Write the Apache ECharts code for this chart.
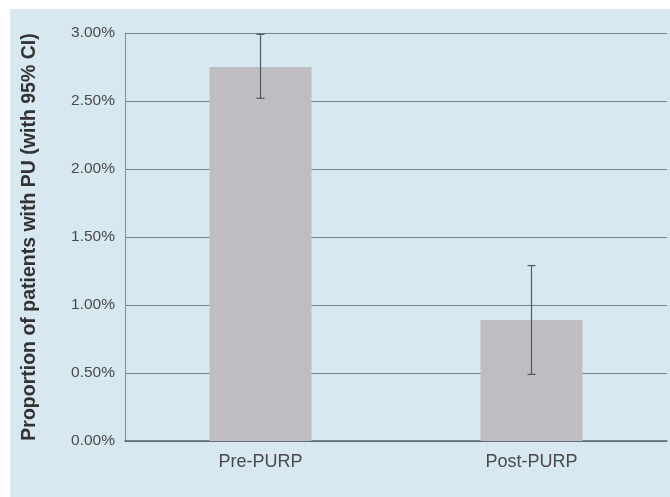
<!DOCTYPE html>
<html>
<head>
<meta charset="utf-8">
<script src="https://cdn.jsdelivr.net/npm/echarts@6/dist/echarts.min.js"></script>
<style>html,body{margin:0;padding:0;background:#fff}#c{width:670px;height:497px}</style>
</head>
<body>
<div id="c"></div>
<script>
var categories = ['Pre-PURP', 'Post-PURP'];
var proportions = [2.75, 0.89];
var ciLower = [2.52, 0.49];
var ciUpper = [2.99, 1.29];
var yTicks = [0, 0.5, 1.0, 1.5, 2.0, 2.5, 3.0];

var chart = echarts.init(document.getElementById('c'), null, {renderer: 'canvas'});
var errData = categories.map(function (c, i) { return [i, ciLower[i], ciUpper[i]]; });
var FONT = 'Liberation Sans, Arial, Helvetica, sans-serif';
chart.setOption({
  backgroundColor: '#ffffff',
  animation: false,
  graphic: [{
    type: 'rect', z: -10, silent: true,
    shape: {x: 10, y: 9, width: 660, height: 488},
    style: {fill: '#d7e8f1'}
  }],
  grid: {left: 125, top: 33, right: 3, bottom: 56},
  xAxis: {
    type: 'category', data: categories,
    axisLine: {show: true, lineStyle: {color: '#56656f', width: 1.5}},
    axisTick: {show: false},
    axisLabel: {color: '#4a4a4a', fontFamily: FONT, fontSize: 18, margin: 12}
  },
  yAxis: {
    type: 'value', min: yTicks[0], max: yTicks[yTicks.length - 1], interval: 0.5,
    name: 'Proportion of patients with PU (with 95% CI)',
    nameLocation: 'middle', nameRotate: 90, nameGap: 85,
    nameTextStyle: {color: '#333333', fontFamily: FONT, fontSize: 19.5, fontWeight: 'bold'},
    axisLine: {show: true, lineStyle: {color: '#7d8c95', width: 1}},
    axisTick: {show: false},
    splitLine: {show: true, lineStyle: {color: '#71858f', width: 1.2}},
    axisLabel: {
      color: '#4a4a4a', fontFamily: FONT, fontSize: 15.5, margin: 10,
      formatter: function (v) { return v.toFixed(2) + '%'; }
    }
  },
  series: [{
    type: 'bar', data: proportions, barWidth: '37.6%',
    itemStyle: {color: '#bebdc1'}, z: 2
  }, {
    type: 'custom', data: errData, z: 5,
    renderItem: function (params, api) {
      var x = api.value(0);
      var lo = api.coord([x, api.value(1)]);
      var hi = api.coord([x, api.value(2)]);
      var w = 4;
      var st = {stroke: '#4d5a63', lineWidth: 1.2};
      return {type: 'group', children: [
        {type: 'line', shape: {x1: lo[0], y1: lo[1], x2: hi[0], y2: hi[1]}, style: st},
        {type: 'line', shape: {x1: lo[0] - w, y1: lo[1], x2: lo[0] + w, y2: lo[1]}, style: st},
        {type: 'line', shape: {x1: hi[0] - w, y1: hi[1], x2: hi[0] + w, y2: hi[1]}, style: st}
      ]};
    }
  }]
});
</script>
</body>
</html>
